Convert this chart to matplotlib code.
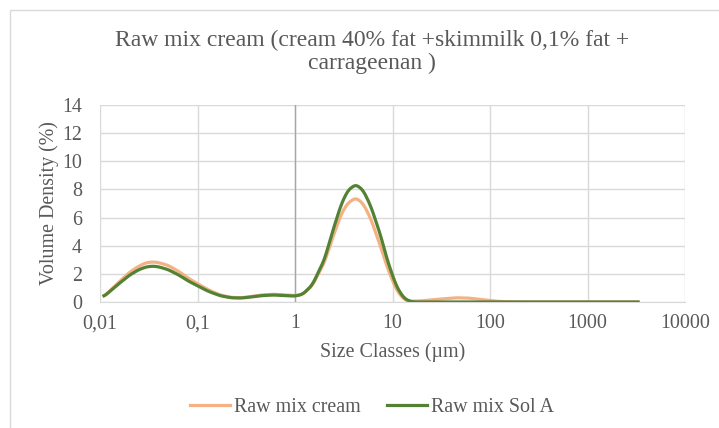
import numpy as np
import matplotlib.pyplot as plt
from matplotlib.patches import Rectangle

# size classes (um) and volume density (%)
size_cream = [0.011, 0.015, 0.02, 0.025, 0.03, 0.035, 0.04, 0.05, 0.065, 0.08,
              0.1, 0.13, 0.17, 0.22, 0.28, 0.35, 0.45, 0.6, 0.8, 1.0,
              1.2, 1.5, 2.0, 2.5, 3.0, 3.5, 4.2, 5.0, 6.0, 7.5,
              9.0, 11, 13, 15, 20, 30, 45, 60, 80, 100,
              130, 200, 500, 1000, 3300]
vol_cream = [0.4, 1.3, 2.1, 2.55, 2.8, 2.85, 2.8, 2.6, 2.15, 1.7,
             1.3, 0.85, 0.5, 0.33, 0.3, 0.38, 0.5, 0.55, 0.5, 0.45,
             0.55, 1.15, 2.8, 4.8, 6.3, 7.05, 7.4, 7.0, 5.9, 4.0,
             2.3, 0.85, 0.2, 0.05, 0.08, 0.2, 0.3, 0.28, 0.18, 0.1,
             0.03, 0.0, 0.0, 0.0, 0.0]

size_sol_a = [0.011, 0.015, 0.02, 0.025, 0.03, 0.035, 0.04, 0.05, 0.065, 0.08,
              0.1, 0.13, 0.17, 0.22, 0.28, 0.35, 0.45, 0.6, 0.8, 1.0,
              1.2, 1.5, 2.0, 2.5, 3.0, 3.5, 4.2, 5.0, 6.0, 7.5,
              9.0, 11, 13, 15, 17, 30, 100, 1000, 3300]
vol_sol_a = [0.4, 1.2, 1.9, 2.3, 2.5, 2.55, 2.5, 2.3, 1.9, 1.5,
             1.15, 0.75, 0.45, 0.3, 0.28, 0.35, 0.45, 0.5, 0.45, 0.42,
             0.55, 1.2, 3.0, 5.3, 7.0, 7.95, 8.35, 7.95, 6.8, 4.8,
             2.8, 1.1, 0.3, 0.05, 0.0, 0.0, 0.0, 0.0, 0.0]

x_ticks = [0.01, 0.1, 1, 10, 100, 1000, 10000]
x_labels = ['0,01', '0,1', '1', '10', '100', '1000', '10000']
y_ticks = [0, 2, 4, 6, 8, 10, 12, 14]


def smooth(xs, ys, n=600):
    # interpolate in log space and soften the corners (Excel smoothed line look)
    lx = np.log10(xs)
    grid = np.linspace(lx[0], lx[-1], n)
    yi = np.interp(grid, lx, ys)
    k = np.ones(7) / 7
    yi = np.convolve(np.pad(yi, 3, mode='edge'), k, mode='valid')
    return 10 ** grid, np.clip(yi, 0, None)


plt.rcParams['font.family'] = ['Liberation Serif', 'DejaVu Serif']
text_col = '#595959'
fs = 14.4

fig = plt.figure(figsize=(7.19, 4.28), dpi=100)
# chart area border (only left and top edges fall inside the picture)
fig.patches.append(Rectangle((10 / 719, -0.1), 1.2, 1.1 - 10 / 428,
                             transform=fig.transFigure, fill=False,
                             edgecolor='#D9D9D9', linewidth=1))
ax = fig.add_axes([100 / 719, 1 - 302 / 428, 585 / 719, 197 / 428])

xc, yc = smooth(size_cream, vol_cream)
xs, ys = smooth(size_sol_a, vol_sol_a)
ax.plot(xc, yc, color='#F4B183', linewidth=2.3, label='Raw mix cream', zorder=3)
ax.plot(xs, ys, color='#548235', linewidth=2.3, label='Raw mix Sol A', zorder=4)

ax.set_xscale('log')
ax.set_xlim(0.01, 10000)
ax.set_ylim(0, 14)
ax.set_xticks(x_ticks)
ax.set_xticklabels(x_labels)
ax.minorticks_off()
ax.set_yticks(y_ticks)
ax.grid(True, color='#D9D9D9', linewidth=1)
ax.axvline(1, color='#A6A6A6', linewidth=1, zorder=2)
for s in ['top', 'right', 'left']:
    ax.spines[s].set_visible(False)
ax.spines['bottom'].set_color('#D9D9D9')
ax.tick_params(length=0, labelsize=fs, colors=text_col)
ax.tick_params(axis='x', pad=9)
ax.tick_params(axis='y', pad=13)

ax.set_xlabel('Size Classes (µm)', fontsize=fs, color=text_col, labelpad=6)
ax.set_ylabel('Volume Density (%)', fontsize=fs, color=text_col, labelpad=2)
fig.text(372 / 719, 1 - 52 / 428,
         'Raw mix cream (cream 40% fat +skimmilk 0,1% fat +\ncarrageenan )',
         ha='center', va='center', fontsize=17, color=text_col, linespacing=1.15)

fig.legend(loc='center', bbox_to_anchor=(372 / 719, 1 - 407 / 428),
           ncol=2, frameon=False, fontsize=fs, handlelength=2.0, columnspacing=1.3,
           handletextpad=0.2, labelcolor=text_col)

fig.savefig('out.png', dpi=100)
